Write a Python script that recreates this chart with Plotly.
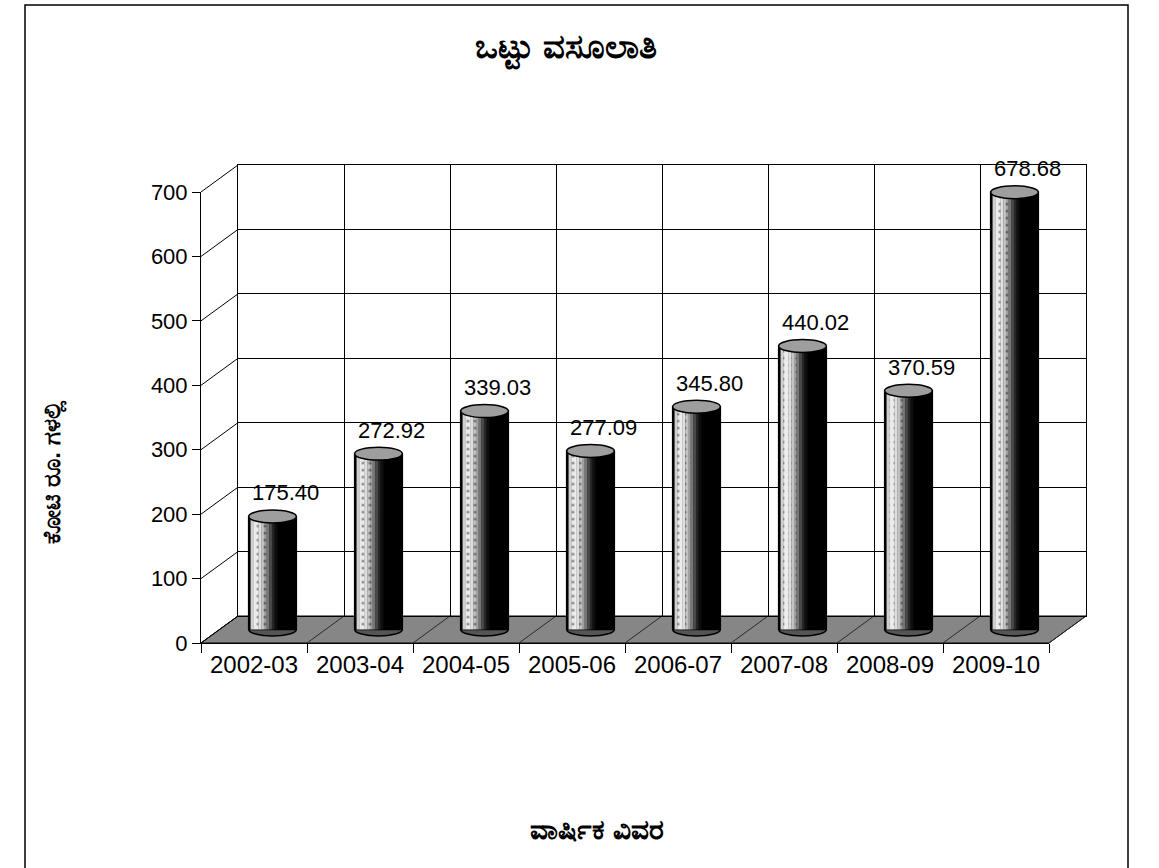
import plotly.graph_objects as go

# ---------------- data ----------------
years = ["2002-03", "2003-04", "2004-05", "2005-06", "2006-07", "2007-08", "2008-09", "2009-10"]
values = [175.40, 272.92, 339.03, 277.09, 345.80, 440.02, 370.59, 678.68]
y_ticks = [0, 100, 200, 300, 400, 500, 600, 700]
title_text = "ಒಟ್ಟು ವಸೂಲಾತಿ"
y_title_text = "ಕೋಟಿ ರೂ. ಗಳಲ್ಲಿ"
x_title_text = "ವಾರ್ಷಿಕ ವಿವರ"

# ---------------- geometry (pixels) ----------------
W, H = 1159, 868
FX0, FX1 = 201, 1049          # front x-axis extent
FY0, FYT = 643, 192           # front y: value 0 and value 700
YMAX = 700
SCALE = (FY0 - FYT) / YMAX    # px per unit
DX, DY = 37, -27              # depth offset of back wall
BAR_W = 0.45                  # cylinder width in category units
ELL = 10                      # ellipse half height in data units
FONT = "Liberation Sans, Arial, sans-serif"


def px(x):
    return x / W


def py(y):
    return 1 - y / H


n = len(years)
idx = list(range(n))

# bar plane at half depth
BX0, BX1 = FX0 + DX / 2, FX1 + DX / 2
BY0 = FY0 + DY / 2
b_lo, b_hi = -30, 720

fig = go.Figure()

# invisible carriers so the front axes and the back wall are drawn
for xa, ya in (("x", "y"), ("x2", "y2")):
    fig.add_trace(go.Scatter(x=idx, y=values, xaxis=xa, yaxis=ya, mode="markers",
                             marker=dict(opacity=0), hoverinfo="skip", showlegend=False))

# base (dark) cylinder body with outline
fig.add_trace(go.Bar(
    x=idx, y=values, width=BAR_W, xaxis="x3", yaxis="y3",
    marker=dict(color="#000000", line=dict(color="#000000", width=1.5)),
    hoverinfo="skip", showlegend=False,
))
# shading stripes (light on the left, dark on the right)
stripe_cols = ["#cfcfcf", "#eaeaea", "#ececec", "#dedede", "#c4c4c4",
               "#a0a0a0", "#767676", "#4a4a4a", "#262626", "#0e0e0e"]
s0, s1 = 0.04, 0.60
sw = (s1 - s0) / len(stripe_cols)
for k, c in enumerate(stripe_cols):
    fig.add_trace(go.Bar(
        x=idx, y=values, width=sw * BAR_W + 0.002,
        offset=-BAR_W / 2 + (s0 + k * sw) * BAR_W,
        xaxis="x3", yaxis="y3",
        marker=dict(color=c, line=dict(width=0),
                    pattern=dict(shape="." if k in (1, 2, 4, 5) else "", fgcolor="#000000",
                                 size=7, solidity=0.12)),
        hoverinfo="skip", showlegend=False,
    ))

shapes = []
# outer border
shapes.append(dict(type="rect", xref="paper", yref="paper",
                   x0=px(25), x1=px(1128), y0=py(5), y1=py(880),
                   line=dict(color="#000000", width=1.5), fillcolor="rgba(0,0,0,0)", layer="below"))
# floor
floor_path = "M {} {} L {} {} L {} {} L {} {} Z".format(
    px(FX0), py(FY0), px(FX1), py(FY0), px(FX1 + DX), py(FY0 + DY), px(FX0 + DX), py(FY0 + DY))
shapes.append(dict(type="path", xref="paper", yref="paper", path=floor_path,
                   fillcolor="#868686", line=dict(color="#000000", width=1), layer="below"))
cat_w = (FX1 - FX0) / n
for k in range(n + 1):
    xf = FX0 + k * cat_w
    shapes.append(dict(type="line", xref="paper", yref="paper",
                       x0=px(xf), y0=py(FY0), x1=px(xf + DX), y1=py(FY0 + DY),
                       line=dict(color="#2a2a2a", width=1), layer="below"))
# side wall gridlines
for t in y_ticks:
    yf = FY0 - t * SCALE
    shapes.append(dict(type="line", xref="paper", yref="paper",
                       x0=px(FX0), y0=py(yf), x1=px(FX0 + DX), y1=py(yf + DY),
                       line=dict(color="#000000", width=1), layer="below"))
# cylinder bottoms and tops
for i, v in zip(idx, values):
    shapes.append(dict(type="circle", xref="x3", yref="y3",
                       x0=i - BAR_W / 2, x1=i + BAR_W / 2, y0=-ELL, y1=ELL,
                       fillcolor="#555555", line=dict(color="#000000", width=1.5), layer="below"))
    shapes.append(dict(type="circle", xref="x3", yref="y3",
                       x0=i - BAR_W / 2, x1=i + BAR_W / 2, y0=v - ELL, y1=v + ELL,
                       fillcolor="#9e9e9e", line=dict(color="#000000", width=1.5), layer="above"))

annotations = []
for i, v in zip(idx, values):
    annotations.append(dict(x=i + 0.12, y=v, xref="x3", yref="y3", text=f"{v:.2f}",
                            showarrow=False, yanchor="bottom", yshift=9,
                            font=dict(family=FONT, size=22, color="#000000")))
annotations.append(dict(x=px(35), y=py(472), xref="paper", yref="paper", text=f"<b>{y_title_text}</b>",
                        textangle=-90, showarrow=False, font=dict(family=FONT, size=24, color="#000000")))
annotations.append(dict(x=px(597), y=py(847), xref="paper", yref="paper", text=f"<b>{x_title_text}</b>",
                        showarrow=False, font=dict(family=FONT, size=28, color="#000000")))

axis_common = dict(automargin=False)

fig.update_layout(
    width=W, height=H, autosize=False,
    margin=dict(l=0, r=0, t=0, b=0, autoexpand=False),
    paper_bgcolor="#ffffff", plot_bgcolor="rgba(0,0,0,0)",
    barmode="overlay", showlegend=False,
    font=dict(family=FONT, color="#000000"),
    title=dict(text=f"<b>{title_text}</b>", x=px(566), y=py(46), xref="paper", yref="container",
               xanchor="center", yanchor="middle", font=dict(family=FONT, size=34, color="#000000")),
    # front axes (labels)
    xaxis=dict(domain=[px(FX0), px(FX1)], anchor="y", range=[-0.5, n - 0.5],
               tickmode="array", tickvals=idx, ticktext=years, ticks="",
               tickfont=dict(size=24), showline=True, linecolor="#000000", linewidth=1,
               showgrid=False, zeroline=False, fixedrange=True,
               minor=dict(tickmode="array", tickvals=[k - 0.5 for k in range(n + 1)],
                          ticks="outside", ticklen=9, tickcolor="#000000", showgrid=False),
               **axis_common),
    yaxis=dict(domain=[py(FY0), py(FYT)], anchor="x", range=[0, YMAX],
               tickmode="array", tickvals=y_ticks, ticks="outside", ticklen=8,
               tickcolor="#000000", tickfont=dict(size=22), showline=True,
               linecolor="#000000", linewidth=1, showgrid=False, zeroline=False,
               **axis_common),
    # back wall
    xaxis2=dict(domain=[px(FX0 + DX), px(FX1 + DX)], anchor="y2", range=[0, n],
                tickmode="linear", dtick=1, tick0=0, showticklabels=False, ticks="",
                showgrid=True, gridcolor="#000000", gridwidth=1, showline=True, mirror=True,
                linecolor="#000000", zeroline=False, **axis_common),
    yaxis2=dict(domain=[py(FY0 + DY), py(FYT + DY)], anchor="x2", range=[0, YMAX],
                tickmode="linear", dtick=100, showticklabels=False, ticks="",
                showgrid=True, gridcolor="#000000", gridwidth=1, showline=True, mirror=True,
                linecolor="#000000", zeroline=False, **axis_common),
    # bar plane (half depth)
    xaxis3=dict(domain=[px(BX0), px(BX1)], anchor="y3", range=[-0.5, n - 0.5], visible=False),
    yaxis3=dict(domain=[py(BY0 - b_lo * SCALE), py(BY0 - b_hi * SCALE)], anchor="x3",
                range=[b_lo, b_hi], visible=False),
    shapes=shapes,
    annotations=annotations,
)

fig.write_html("out.html", config={"displayModeBar": False},
               post_script="document.body.style.margin='0';document.body.style.overflow='hidden';")
